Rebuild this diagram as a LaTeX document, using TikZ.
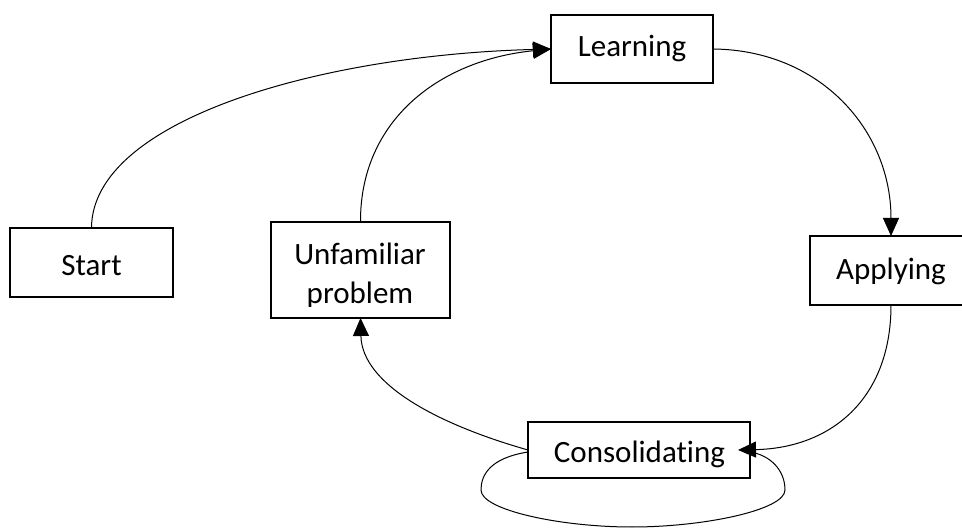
\documentclass[tikz,border=0pt]{standalone}
\usepackage{fontspec}
\setmainfont{Carlito}[Ligatures={NoCommon}]
\usetikzlibrary{arrows.meta}
\begin{document}
\begin{tikzpicture}[x=1pt,y=-1pt,
  box/.style={draw, line width=2.5pt, inner sep=0pt, outer sep=0pt},
  conn/.style={line width=1pt},
  arr/.style={conn,-{Triangle[length=18pt,width=16pt]}},
  lbl/.style={font=\fontsize{31}{38}\selectfont, anchor=base, inner sep=0pt}]
\useasboundingbox (0,0) rectangle (962,529);
% boxes
\node[box, minimum width=163pt, minimum height=69pt] (start) at (91.5,262.5) {};
\node[box, minimum width=162pt, minimum height=68pt] (learn) at (632,49) {};
\node[box, minimum width=179pt, minimum height=96pt] (unf) at (360.5,270) {};
\node[box, minimum width=162pt, minimum height=69pt] (apply) at (891,270.5) {};
\node[box, minimum width=222pt, minimum height=56pt] (cons) at (639,450) {};
% labels
\node[lbl] (startT) at (91.5,276) {Start};
\node[lbl] (learnT) at (632,57) {Learning};
\node[lbl] (applyT) at (891,280) {Applying};
\begin{scope}
  \clip (271,222) rectangle (450,307);
  \node[lbl] (unfT1) at (360,265) {Unfamiliar};
  \node[lbl] (unfT2) at (360,304) {problem};
\end{scope}
\begin{scope}
  \clip (528,422) rectangle (750,467);
  \node[lbl] (consT) at (639.5,463) {Consolidating};
\end{scope}
% connectors
\coordinate (ctip) at ([xshift=-12pt]cons.east);
\draw[arr] (start.north) .. controls (92,120) and (320,55) .. (learn.west);
\draw[arr] (unf.north) .. controls (360,120) and (440,60) .. (learn.west);
\draw[arr] (learn.east) .. controls (820,50) and (891,130) .. (apply.north);
\draw[arr] (apply.south) .. controls (891,400) and (830,448) .. (ctip);
\draw[arr] (cons.west) .. controls (440,425) and (362,385) .. (unf.south);
\draw[conn] ([yshift=-2pt]cons.west) .. controls (490,458) and (481,475) .. (481,490)
  .. controls (481,510) and (560,527) .. (632,527)
  .. controls (704,527) and (785,510) .. (785,490)
  .. controls (785,470) and (770,455) .. ([yshift=-2pt]cons.east);
\end{tikzpicture}
\end{document}
